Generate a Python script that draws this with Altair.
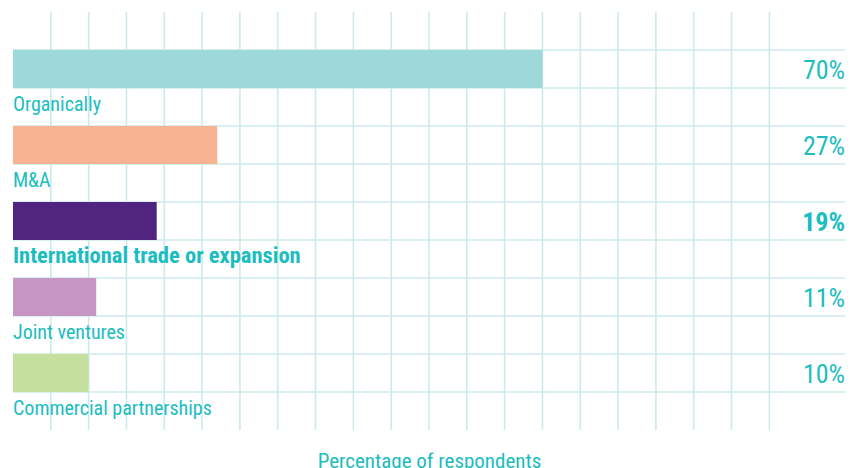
import altair as alt
import pandas as pd

categories = ["Organically", "M&A", "International trade or expansion",
              "Joint ventures", "Commercial partnerships"]
values = [70, 27, 19, 11, 10]
value_labels = ["70%", "27%", "19%", "11%", "10%"]
colors = ["#9DD8DA", "#F7B391", "#51247F", "#C896C4", "#C5DF9F"]
highlight = [False, False, True, False, False]
axis_title = "Percentage of respondents"
x_grid = list(range(5, 101, 5))
y_grid = list(range(1, 11))

TEAL = "#1BBDC0"
GRID = "#CCEAEB"
FONT = "Liberation Sans Narrow, Roboto Condensed, DejaVu Sans Condensed, Arial Narrow, sans-serif"

n = len(categories)
df = pd.DataFrame({
    "category": categories,
    "value": values,
    "label": value_labels,
    "color": colors,
    "bold": highlight,
    "top": [2 * i + 1 for i in range(n)],
    "bottom": [2 * i + 2 for i in range(n)],
    "mid": [2 * i + 1.5 for i in range(n)],
})

vdf = pd.DataFrame({"gx": x_grid, "gy0": 0, "gy1": 11})
hdf = pd.DataFrame({"gy": y_grid, "gx0": 0, "gx1": 110})

xscale = alt.Scale(domain=[0, 110], nice=False, zero=True)
yscale = alt.Scale(domain=[0, 11], reverse=True, nice=False)

vgrid = alt.Chart(vdf).mark_rule(color=GRID, strokeWidth=1.6).encode(
    x=alt.X("gx:Q", scale=xscale,
            axis=alt.Axis(grid=False, labels=False, ticks=False, domain=False,
                          title=axis_title, titleFont=FONT, titleFontSize=21,
                          titleFontWeight="normal", titleColor=TEAL, titlePadding=20)),
    y=alt.Y("gy0:Q", scale=yscale, axis=None),
    y2="gy1:Q",
)

hgrid = alt.Chart(hdf).mark_rule(color=GRID, strokeWidth=1.6).encode(
    y=alt.Y("gy:Q"),
    x=alt.X("gx0:Q"),
    x2="gx1:Q",
)

base = alt.Chart(df)

bars = base.mark_bar(cornerRadius=0).encode(
    x=alt.X("value:Q"),
    x2=alt.datum(0),
    y=alt.Y("top:Q"),
    y2="bottom:Q",
    color=alt.Color("color:N", scale=None),
)

cat_normal = base.transform_filter("!datum.bold").mark_text(
    align="left", baseline="alphabetic", dy=23, font=FONT, fontSize=20, color=TEAL
).encode(
    x=alt.datum(0),
    y=alt.Y("bottom:Q"),
    text="category:N",
)

cat_bold = base.transform_filter("datum.bold").mark_text(
    align="left", baseline="alphabetic", dy=23, font=FONT, fontSize=22.5,
    fontWeight="bold", color=TEAL
).encode(
    x=alt.datum(0),
    y=alt.Y("bottom:Q"),
    text="category:N",
)

pct_normal = base.transform_filter("!datum.bold").mark_text(
    align="right", baseline="alphabetic", dy=10, font=FONT, fontSize=26, color=TEAL
).encode(
    x=alt.datum(110),
    y=alt.Y("mid:Q"),
    text="label:N",
)

pct_bold = base.transform_filter("datum.bold").mark_text(
    align="right", baseline="alphabetic", dy=10, font=FONT, fontSize=26,
    fontWeight="bold", color=TEAL
).encode(
    x=alt.datum(110),
    y=alt.Y("mid:Q"),
    text="label:N",
)

chart = alt.layer(vgrid, hgrid, bars, cat_normal, cat_bold, pct_normal, pct_bold).properties(
    width=832,
    height=418,
    autosize=alt.AutoSizeParams(type="none"),
    padding={"left": 5, "top": 4, "right": 2, "bottom": 38},
    background="white",
).configure_view(stroke=None)

chart.save("out.html", embed_options={"renderer": "svg", "actions": False})
